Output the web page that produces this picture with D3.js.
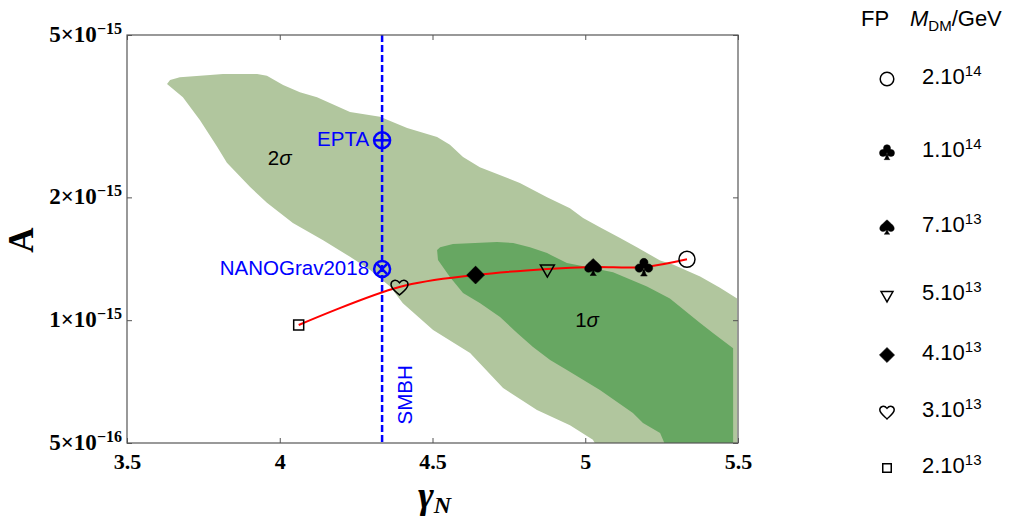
<!DOCTYPE html>
<html><head><meta charset="utf-8">
<script src="https://cdn.jsdelivr.net/npm/d3@7"></script>
<style>
body{margin:0;background:#fff;}
svg{display:block;}
.sans{font-family:"Liberation Sans",Arial,sans-serif;}
.serif{font-family:"Liberation Serif","Times New Roman",serif;}
</style></head><body>
<svg id="c" width="1013" height="522"></svg>
<script>
// ---------- data ----------
const xTicks = [3.5, 4, 4.5, 5, 5.5];
const xTickLabels = ["3.5", "4", "4.5", "5", "5.5"];
const yTicks = [0.5, 1, 2, 5];                 // A in units of 1e-15
const yTickMant = ["5×10", "1×10", "2×10", "5×10"];
const yTickExp = ["−16", "−15", "−15", "−15"];

// 2-sigma region boundary [gamma, A/1e-15]
const sigma2 = [[3.631,3.79],[3.641,3.88],[3.673,3.94],[3.772,3.99],[3.814,4.01],[3.926,4.01],[3.958,3.97],[4.011,3.77],[4.066,3.62],[4.122,3.52],[4.230,3.24],[4.328,3.15],[4.417,2.96],[4.515,2.81],[4.557,2.69],[4.600,2.51],[4.655,2.37],[4.786,2.17],[4.875,2.00],[4.950,1.88],[4.993,1.78],[5.048,1.69],[5.114,1.59],[5.169,1.51],[5.245,1.40],[5.287,1.37],[5.376,1.28],[5.441,1.20],[5.497,1.13],[5.497,0.49],[5.038,0.49],[5.025,0.509],[4.950,0.553],[4.842,0.602],[4.731,0.682],[4.623,0.831],[4.502,0.946],[4.403,1.10],[4.361,1.21],[4.295,1.33],[4.230,1.43],[4.142,1.57],[4.043,1.73],[3.958,1.94],[3.903,2.12],[3.827,2.43],[3.795,2.66],[3.739,3.09],[3.683,3.52]];
// 1-sigma region boundary
const sigma1 = [[4.515,1.486],[4.525,1.51],[4.567,1.537],[4.711,1.554],[4.764,1.546],[4.819,1.51],[4.875,1.46],[4.940,1.38],[5.006,1.35],[5.091,1.31],[5.202,1.21],[5.277,1.13],[5.376,0.984],[5.418,0.930],[5.484,0.854],[5.484,0.49],[5.264,0.49],[5.245,0.529],[5.189,0.560],[5.156,0.592],[5.048,0.674],[4.940,0.755],[4.885,0.799],[4.829,0.860],[4.777,0.930],[4.721,1.018],[4.656,1.10],[4.600,1.166],[4.557,1.276],[4.518,1.404]];

// FP benchmark points
const fpGamma = [4.062, 4.392, 4.641, 4.876, 5.026, 5.192, 5.333];
const fpA = [0.973, 1.206, 1.29, 1.335, 1.35, 1.35, 1.41];
const fpSymbol = ["square", "heart", "diamond", "triangle", "spade", "club", "circle"];

// legend (top to bottom)
const legendSymbol = ["circle", "club", "spade", "triangle", "diamond", "heart", "square"];
const legendMant = ["2.10", "1.10", "7.10", "5.10", "4.10", "3.10", "2.10"];
const legendExp = ["14", "14", "13", "13", "13", "13", "13"];

const smbhGamma = 4.335;
const ptaNames = ["EPTA", "NANOGrav2018"];
const ptaA = [2.76, 1.335];
const ptaMark = ["plus", "times"];
const sigmaLabels = [{t:"2", g:4.0, a:2.40}, {t:"1", g:5.006, a:0.962}];

// ---------- layout ----------
const L = 127, R = 738, T = 35, B = 443;
const legendY = [79, 152, 227, 295, 355, 412, 468];
const svg = d3.select("#c");
const x = d3.scaleLinear().domain([3.5, 5.5]).range([L, R]);
const y = d3.scaleLog().domain([0.5, 5]).range([B, T]);

svg.append("clipPath").attr("id", "clip").append("rect")
  .attr("x", L).attr("y", T).attr("width", R - L).attr("height", B - T);
const plot = svg.append("g").attr("clip-path", "url(#clip)");

const area = d3.line().x(d => x(d[0])).y(d => y(d[1])).curve(d3.curveLinearClosed);
plot.append("path").attr("d", area(sigma2)).attr("fill", "#b1c69e");
plot.append("path").attr("d", area(sigma1)).attr("fill", "#67a762");

// sigma labels
sigmaLabels.forEach(s => {
  const t = svg.append("text").attr("class", "sans").attr("x", x(s.g)).attr("y", y(s.a))
    .attr("text-anchor", "middle").attr("font-size", 20.5).attr("fill", "#000");
  t.append("tspan").text(s.t);
  t.append("tspan").attr("font-style", "italic").text("σ");
});

// SMBH line
plot.append("line").attr("x1", x(smbhGamma)).attr("x2", x(smbhGamma)).attr("y1", T).attr("y2", B)
  .attr("stroke", "#0000ff").attr("stroke-width", 2.5).attr("stroke-dasharray", "7,3");
svg.append("text").attr("class", "sans")
  .attr("transform", `translate(${x(smbhGamma) + 30},${y(0.656)}) rotate(-90)`)
  .attr("text-anchor", "middle").attr("font-size", 20.5).attr("fill", "#0000ff").text("SMBH");

// red curve
const pts = fpGamma.map((g, i) => [x(g), y(fpA[i])]);
plot.append("path").attr("d", d3.line().curve(d3.curveCatmullRom.alpha(0.5))(pts))
  .attr("fill", "none").attr("stroke", "#ff0000").attr("stroke-width", 2);

// symbol types
const heart = {draw(c, s){ const r = Math.sqrt(s);
  c.moveTo(0, 0.95*r);
  c.bezierCurveTo(-0.35*r, 0.6*r, -r, 0.2*r, -r, -0.3*r);
  c.bezierCurveTo(-r, -0.8*r, -0.4*r, -1.0*r, 0, -0.5*r);
  c.bezierCurveTo(0.4*r, -1.0*r, r, -0.8*r, r, -0.3*r);
  c.bezierCurveTo(r, 0.2*r, 0.35*r, 0.6*r, 0, 0.95*r);
  c.closePath(); }};
const spade = {draw(c, s){ const r = Math.sqrt(s);
  c.moveTo(0, -r);
  c.bezierCurveTo(-0.35*r, -0.6*r, -r, -0.25*r, -r, 0.2*r);
  c.bezierCurveTo(-r, 0.65*r, -0.4*r, 0.75*r, -0.08*r, 0.42*r);
  c.bezierCurveTo(-0.12*r, 0.7*r, -0.25*r, 0.9*r, -0.38*r, r);
  c.lineTo(0.38*r, r);
  c.bezierCurveTo(0.25*r, 0.9*r, 0.12*r, 0.7*r, 0.08*r, 0.42*r);
  c.bezierCurveTo(0.4*r, 0.75*r, r, 0.65*r, r, 0.2*r);
  c.bezierCurveTo(r, -0.25*r, 0.35*r, -0.6*r, 0, -r);
  c.closePath(); }};
const club = {draw(c, s){ const r = Math.sqrt(s), q = 0.46*r;
  [[0, -0.5*r], [-0.52*r, 0.12*r], [0.52*r, 0.12*r], [0, 0]].forEach(([cx, cy], i) => {
    const rr = i === 3 ? 0.32*r : q;
    c.moveTo(cx + rr, cy); c.arc(cx, cy, rr, 0, 2*Math.PI); c.closePath(); });
  c.moveTo(-0.06*r, 0.1*r);
  c.bezierCurveTo(-0.1*r, 0.6*r, -0.25*r, 0.9*r, -0.38*r, r);
  c.lineTo(0.38*r, r);
  c.bezierCurveTo(0.25*r, 0.9*r, 0.1*r, 0.6*r, 0.06*r, 0.1*r);
  c.closePath(); }};

function drawSym(g, type, cx, cy, k) {
  const st = {
    circle:   {t: d3.symbolCircle, s: Math.PI*64, fill: "none", rot: 0},
    square:   {t: d3.symbolSquare, s: 100, fill: "none", rot: 0},
    diamond:  {t: d3.symbolSquare, s: 160, fill: "#000", rot: 45},
    triangle: {t: d3.symbolTriangle, s: 85, fill: "none", rot: 180},
    heart:    {t: heart, s: 72, fill: "none", rot: 0},
    spade:    {t: spade, s: 72, fill: "#000", rot: 0},
    club:     {t: club, s: 81, fill: "#000", rot: 0}
  }[type];
  g.append("path").attr("d", d3.symbol().type(st.t).size(st.s * k * k)())
    .attr("transform", `translate(${cx},${cy}) rotate(${st.rot})`)
    .attr("fill", st.fill).attr("stroke", "#000")
    .attr("stroke-width", st.fill === "none" ? 1.5 : 0.5);
}

// PTA points
ptaNames.forEach((n, i) => {
  const cx = x(smbhGamma), cy = y(ptaA[i]), r = 8;
  const g = svg.append("g").attr("stroke", "#0000ff").attr("stroke-width", 2.5).attr("fill", "none");
  g.append("circle").attr("cx", cx).attr("cy", cy).attr("r", r);
  if (ptaMark[i] === "plus") {
    g.append("line").attr("x1", cx - r).attr("x2", cx + r).attr("y1", cy).attr("y2", cy);
    g.append("line").attr("x1", cx).attr("x2", cx).attr("y1", cy - r).attr("y2", cy + r);
  } else {
    const d = r * 0.6;
    g.append("line").attr("x1", cx - d).attr("x2", cx + d).attr("y1", cy - d).attr("y2", cy + d);
    g.append("line").attr("x1", cx - d).attr("x2", cx + d).attr("y1", cy + d).attr("y2", cy - d);
  }
  svg.append("text").attr("class", "sans").attr("x", cx - 13).attr("y", cy + 6)
    .attr("text-anchor", "end").attr("font-size", 20.5).attr("fill", "#0000ff").text(n);
});

// FP points
const fpG = svg.append("g");
pts.forEach((p, i) => drawSym(fpG, fpSymbol[i], p[0], p[1], 1));

// frame & axes
const axG = svg.append("g").attr("class", "serif");
const ax = (gen, tr) => {
  const g = axG.append("g").attr("transform", tr).call(gen);
  g.select(".domain").remove();
  g.selectAll(".tick line").attr("stroke", "#555");
  return g;
};
const bx = ax(d3.axisBottom(x).tickValues(xTicks).tickSizeInner(-5).tickSizeOuter(0).tickPadding(10)
  .tickFormat((d, i) => xTickLabels[i]), `translate(0,${B})`);
bx.selectAll("text").attr("font-size", 22).attr("font-weight", "bold").attr("fill", "#000")
  .attr("font-family", "Liberation Serif");
ax(d3.axisTop(x).tickValues(xTicks).tickSizeInner(-5).tickSizeOuter(0).tickFormat(""), `translate(0,${T})`);
ax(d3.axisLeft(y).tickValues(yTicks).tickSizeInner(-5).tickSizeOuter(0).tickFormat(""), `translate(${L},0)`);
ax(d3.axisRight(y).tickValues(yTicks).tickSizeInner(-5).tickSizeOuter(0).tickFormat(""), `translate(${R},0)`);
svg.append("rect").attr("x", L).attr("y", T).attr("width", R - L).attr("height", B - T)
  .attr("fill", "none").attr("stroke", "#555").attr("stroke-width", 1.2);

yTicks.forEach((v, i) => {
  const t = svg.append("text").attr("class", "serif").attr("x", L - 5).attr("y", y(v) + 7)
    .attr("text-anchor", "end").attr("font-weight", "bold").attr("fill", "#000");
  t.append("tspan").attr("font-size", 23).text(yTickMant[i]);
  t.append("tspan").attr("font-size", 16).attr("dy", -8).text(yTickExp[i]);
});

// axis titles
svg.append("text").attr("class", "serif").attr("transform", "translate(33,240) rotate(-90)")
  .attr("text-anchor", "middle").attr("font-size", 35).attr("font-weight", "bold").text("A");
const xt = svg.append("text").attr("class", "serif").attr("x", (L + R) / 2 + 2).attr("y", 508)
  .attr("text-anchor", "middle").attr("font-weight", "bold").attr("font-style", "italic");
xt.append("tspan").attr("font-size", 38).text("γ");
xt.append("tspan").attr("font-size", 24).attr("dy", 5).text("N");

// legend
const lg = svg.append("g").attr("class", "sans");
lg.append("text").attr("x", 861).attr("y", 26).attr("font-size", 22).text("FP");
const hd = lg.append("text").attr("x", 910).attr("y", 26).attr("font-size", 22);
hd.append("tspan").attr("font-style", "italic").text("M");
hd.append("tspan").attr("font-size", 15).attr("dy", 5).text("DM");
hd.append("tspan").attr("dy", -5).text("/GeV");
legendSymbol.forEach((s, i) => {
  drawSym(lg, s, 887, legendY[i], 0.85);
  const t = lg.append("text").attr("x", 922).attr("y", legendY[i] + 5).attr("font-size", 22);
  t.append("tspan").text(legendMant[i]);
  t.append("tspan").attr("font-size", 15).attr("dy", -8).text(legendExp[i]);
});
</script>
</body></html>
